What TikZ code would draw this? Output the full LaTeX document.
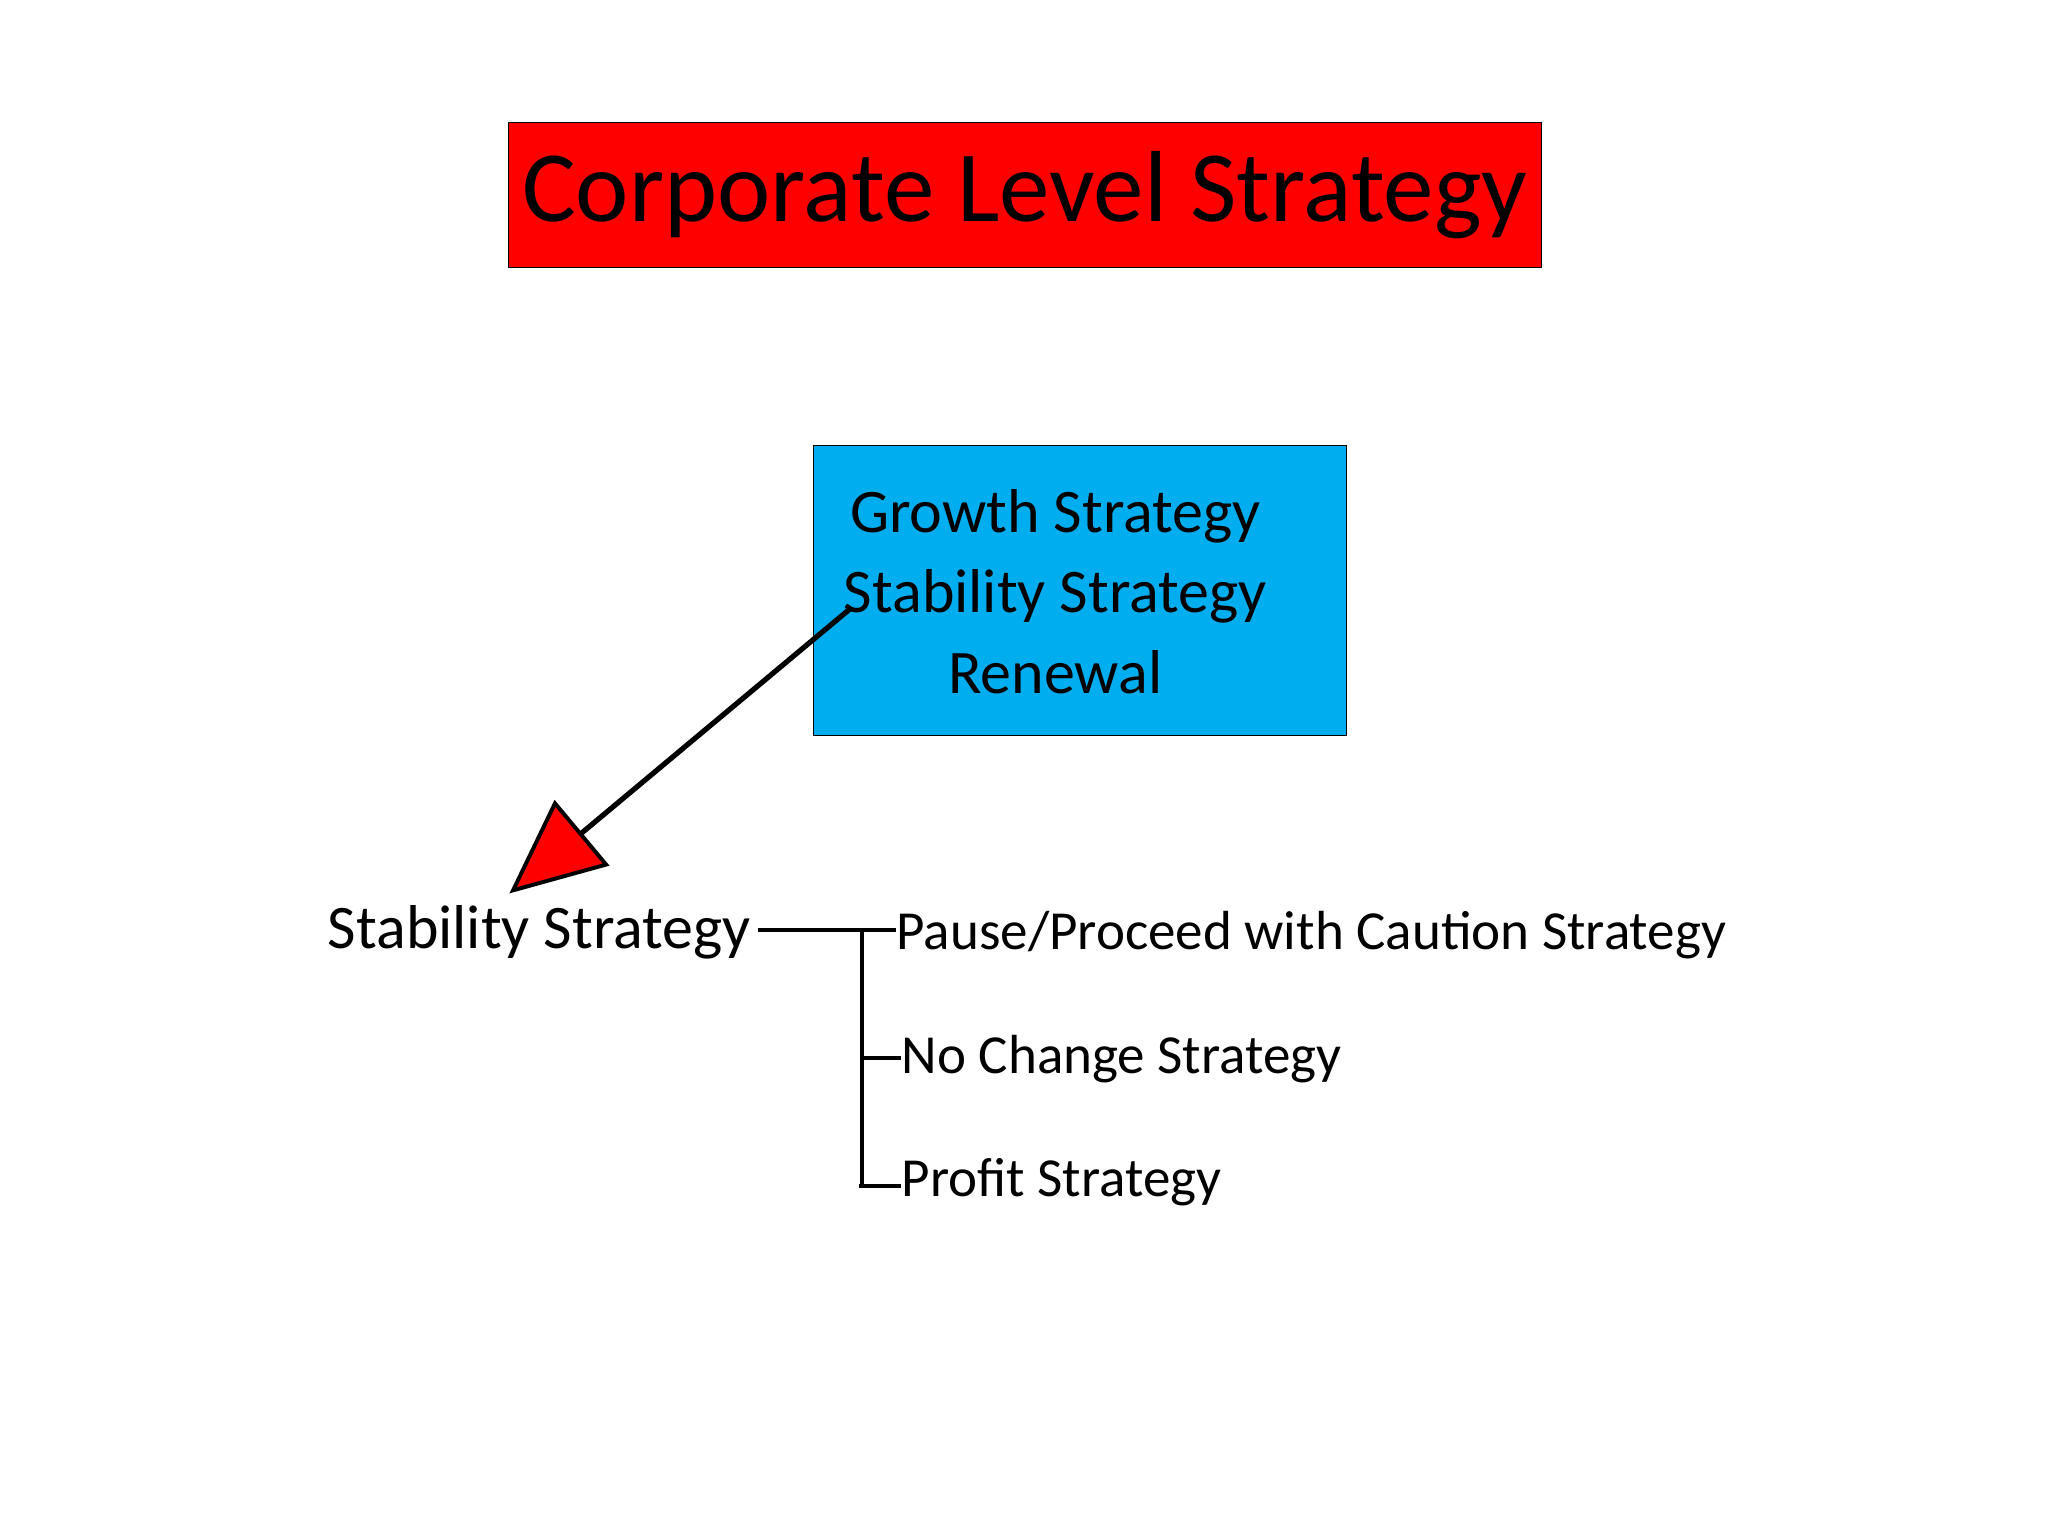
\documentclass[tikz,border=0pt]{standalone}
\usepackage{fontspec}
\setmainfont{Carlito}
\usetikzlibrary{arrows.meta}
\begin{document}
\begin{tikzpicture}[x=0.02cm,y=-0.02cm,
  item/.style={anchor=west,inner sep=0pt,font=\fontsize{24}{28}\selectfont},
  br/.style={line width=0.07cm}]
\useasboundingbox (0,0) rectangle (1568,1176);
\node[draw,fill=red,minimum width=15.82cm,minimum height=2.22cm,font=\fontsize{44}{50}\selectfont] (title) at (784.5,149.5) {Corporate Level Strategy};
\node[draw,fill=cyan,minimum width=8.16cm,minimum height=4.44cm] (box) at (827,452) {};
\node[align=center,font=\fontsize{27}{35}\selectfont] (list) at (808,453) {Growth Strategy\\Stability Strategy\\Renewal};
\coordinate (src) at (651,466);
\node[inner sep=0pt,font=\fontsize{27}{32}\selectfont] (stab) at (413,714) {Stability Strategy};
\coordinate (tip) at (390,684);
\draw[line width=0.08cm,-{Triangle[length=1.45cm,width=1.3cm,fill=red,line width=0.06cm]}] (src) -- (tip);
\coordinate (j) at (660,712);
\node[item] (p1) at (686,716) {Pause/Proceed with Caution Strategy};
\node[item] (p2) at (690,811) {No Change Strategy};
\node[item] (p3) at (690,905) {Profit Strategy};
\draw[br] (580,712) -- (j) -- (660,908);
\draw[br] (j) -- (p1.west |- j);
\draw[br] (660,810) -- (p2.west |- 0,810);
\draw[br] (658,908) -- (p3.west |- 0,908);
\end{tikzpicture}
\end{document}
